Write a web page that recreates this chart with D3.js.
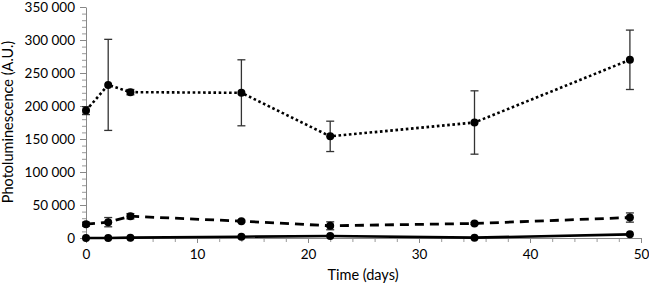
<!DOCTYPE html>
<html>
<head>
<meta charset="utf-8">
<script src="https://cdn.jsdelivr.net/npm/d3@7"></script>
<style>
  body { margin: 0; background: #fff; }
  svg text { font-family: Lato, "Open Sans", sans-serif; fill: #000; }
</style>
</head>
<body>
<div id="chart"></div>
<script>
// chart data
const days = [0, 2, 4, 14, 22, 35, 49];
const dottedVals = [193000, 232000, 221000, 220000, 154000, 175000, 270000];
const dottedErr  = [6000, 69000, 4000, 50000, 23000, 48000, 45000];
const dashedVals = [21000, 24000, 33000, 25500, 18500, 22000, 31000];
const dashedErr  = [3000, 7000, 4000, 1500, 6000, 1500, 7000];
const solidVals  = [0, 0, 500, 2000, 3000, 500, 5500];
const solidErr   = [0, 0, 0, 0, 0, 0, 0];
const xTicks = [0, 10, 20, 30, 40, 50];
const yTicks = [0, 50000, 100000, 150000, 200000, 250000, 300000, 350000];

const width = 649, height = 284;
const margin = {top: 7, right: 8, bottom: 46, left: 86};

const svg = d3.select("#chart")
  .append("svg")
    .attr("width", width)
    .attr("height", height);

const x = d3.scaleLinear().domain([0, 50]).range([margin.left, 641]);
const y = d3.scaleLinear().domain([0, 350000]).range([238, margin.top]);

const fmt = v => d3.format(",")(v).replace(/,/g, " ");

// minor ticks
const xMinor = d3.range(0, 51, 2);
svg.append("g")
  .attr("transform", `translate(0,${y(0)})`)
  .call(d3.axisBottom(x).tickValues(xMinor).tickSize(4).tickFormat(""))
  .call(g => g.select(".domain").remove())
  .call(g => g.selectAll("line").attr("stroke", "#999"));

svg.append("g")
  .attr("transform", `translate(${x(0)},0)`)
  .call(d3.axisLeft(y).tickValues(d3.range(0, 350001, 10000)).tickSize(4).tickFormat(""))
  .call(g => g.select(".domain").remove())
  .call(g => g.selectAll("line").attr("stroke", "#999"));

// major axes
svg.append("g")
  .attr("transform", `translate(0,${y(0)})`)
  .call(d3.axisBottom(x).tickValues(xTicks).tickSize(5).tickSizeOuter(0).tickPadding(6))
  .call(g => g.select(".domain").attr("stroke", "#888"))
  .call(g => g.selectAll("line").attr("stroke", "#888"))
  .call(g => g.selectAll("text").attr("font-size", 13.5));

svg.append("g")
  .attr("transform", `translate(${x(0)},0)`)
  .call(d3.axisLeft(y).tickValues(yTicks).tickSize(6).tickSizeOuter(0).tickFormat(fmt).tickPadding(5))
  .call(g => g.select(".domain").attr("stroke", "#888"))
  .call(g => g.selectAll("line").attr("stroke", "#888"))
  .call(g => g.selectAll("text").attr("font-size", 13.5));

// axis titles
svg.append("text")
  .attr("x", 363).attr("y", 280)
  .attr("text-anchor", "middle")
  .attr("font-size", 14.5)
  .text("Time (days)");

svg.append("text")
  .attr("transform", `translate(13,122) rotate(-90)`)
  .attr("text-anchor", "middle")
  .attr("font-size", 14.5)
  .text("Photoluminescence (A.U.)");

const series = [
  {vals: dottedVals, err: dottedErr, dash: "2.6,2.6", w: 2.6},
  {vals: dashedVals, err: dashedErr, dash: "9,6", w: 2.8},
  {vals: solidVals, err: solidErr, dash: null, w: 2.6}
];

const line = d3.line().x(d => x(d.t)).y(d => y(d.v));

series.forEach(s => {
  const pts = days.map((t, i) => ({t, v: s.vals[i], e: s.err[i]}));
  const g = svg.append("g");

  // error bars
  const eb = g.selectAll(".err").data(pts.filter(d => d.e > 0)).join("g");
  eb.append("line")
    .attr("x1", d => x(d.t)).attr("x2", d => x(d.t))
    .attr("y1", d => y(d.v + d.e)).attr("y2", d => y(d.v - d.e))
    .attr("stroke", "#333").attr("stroke-width", 1.3);
  eb.selectAll(".cap").data(d => [d.v + d.e, d.v - d.e].map(v => ({t: d.t, v}))).join("line")
    .attr("x1", d => x(d.t) - 4).attr("x2", d => x(d.t) + 4)
    .attr("y1", d => y(d.v)).attr("y2", d => y(d.v))
    .attr("stroke", "#333").attr("stroke-width", 1.3);

  g.append("path")
    .datum(pts)
    .attr("d", line)
    .attr("fill", "none")
    .attr("stroke", "#000")
    .attr("stroke-width", s.w)
    .attr("stroke-dasharray", s.dash);

  g.selectAll("circle").data(pts).join("circle")
    .attr("cx", d => x(d.t)).attr("cy", d => y(d.v))
    .attr("r", 4)
    .attr("fill", "#000");
});
</script>
</body>
</html>
